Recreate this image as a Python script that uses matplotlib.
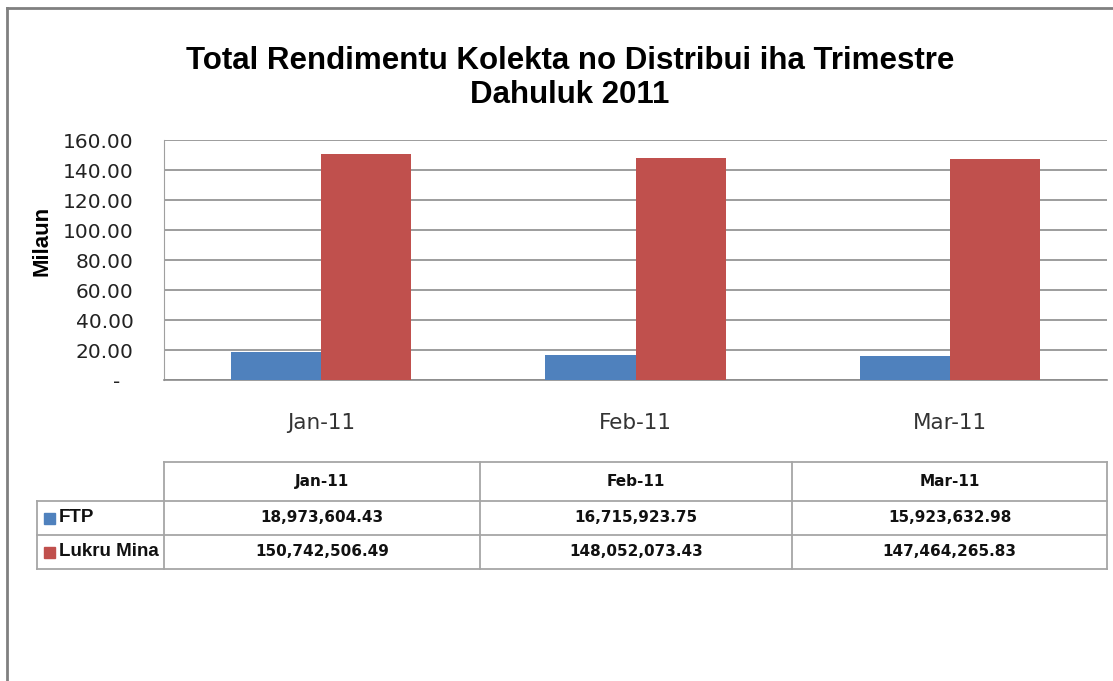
import matplotlib.pyplot as plt
import matplotlib.patches as patches
from matplotlib.lines import Line2D
import numpy as np

# DATA
months = ["Jan-11", "Feb-11", "Mar-11"]
series_names = ["FTP", "Lukru Mina"]
ftp = [18973604.43, 16715923.75, 15923632.98]
lukru_mina = [150742506.49, 148052073.43, 147464265.83]
y_ticks = [0, 20, 40, 60, 80, 100, 120, 140, 160]

colors = ["#4F81BD", "#C0504D"]
W, H = 1113, 681

fig = plt.figure(figsize=(W / 100, H / 100), dpi=100)
fig.patch.set_facecolor("white")

# outer chart border (only top / left visible in the original)
fig.add_artist(Line2D([7 / W, 1.05], [1 - 8 / H, 1 - 8 / H], transform=fig.transFigure,
                      color="#808080", linewidth=2))
fig.add_artist(Line2D([7 / W, 7 / W], [1 - 8 / H, -0.05], transform=fig.transFigure,
                      color="#808080", linewidth=2))

# TITLE
fig.text(570 / W, 1 - 78 / H, "Total Rendimentu Kolekta no Distribui iha Trimestre\nDahuluk 2011",
         ha="center", va="center", fontsize=22.5, fontweight="bold", family="Liberation Sans",
         linespacing=1.2)

# BAR CHART
left, right, top, bottom = 164, 1107, 140, 380
ax = fig.add_axes([left / W, 1 - bottom / H, (right - left) / W, (bottom - top) / H])
x = np.arange(len(months))
bw = 0.287
ax.bar(x - bw / 2, np.array(ftp) / 1e6, bw, color=colors[0], zorder=3)
ax.bar(x + bw / 2, np.array(lukru_mina) / 1e6, bw, color=colors[1], zorder=3)
ax.set_xlim(-0.5, len(months) - 0.5)
ax.set_ylim(0, 160)
ax.set_yticks(y_ticks)
ax.set_yticklabels(["-  "] + ["%.2f" % v for v in y_ticks[1:]], family="DejaVu Sans", fontsize=14.5,
                   color="#222222")
ax.set_xticks(x)
ax.set_xticklabels(months, family="DejaVu Sans", fontsize=15.5, color="#333333")
ax.tick_params(axis="y", length=0, pad=22)
ax.tick_params(axis="x", length=0, pad=24)
ax.grid(axis="y", color="#8c8c8c", linewidth=1.2, zorder=0)
for s in ["top", "right"]:
    ax.spines[s].set_visible(False)
ax.spines["left"].set_color("#a0a0a0")
ax.spines["bottom"].set_color("#8c8c8c")
ax.spines["bottom"].set_linewidth(1.2)
ax.set_ylabel("Milaun", family="Liberation Sans", fontweight="bold", fontsize=16)
ax.yaxis.set_label_coords(-111 / (right - left), 0.58)

# DATA TABLE (drawn in pixel coordinates)
tab = fig.add_axes([0, 0, 1, 1])
tab.set_xlim(0, W)
tab.set_ylim(H, 0)
tab.axis("off")
col_x = [37, 164, 480, 792, 1107]
row_y = [462, 501, 535, 569]
lc = "#a6a6a6"
# horizontal lines
tab.plot([col_x[1], col_x[-1]], [row_y[0], row_y[0]], color=lc, lw=1.3)
for yy in row_y[1:]:
    tab.plot([col_x[0], col_x[-1]], [yy, yy], color=lc, lw=1.3)
# vertical lines
tab.plot([col_x[0], col_x[0]], [row_y[1], row_y[-1]], color=lc, lw=1.3)
for xx in col_x[1:]:
    tab.plot([xx, xx], [row_y[0], row_y[-1]], color=lc, lw=1.3)

tfont = dict(family="DejaVu Sans", fontweight="bold", fontsize=11, color="#111111")
for j, m in enumerate(months):
    cx = (col_x[j + 1] + col_x[j + 2]) / 2
    tab.text(cx, (row_y[0] + row_y[1]) / 2, m, ha="center", va="center", **tfont)

for i, (name, vals) in enumerate(zip(series_names, [ftp, lukru_mina])):
    cy = (row_y[i + 1] + row_y[i + 2]) / 2
    tab.add_patch(patches.Rectangle((44, cy - 5), 11, 11, color=colors[i]))
    tab.text(59, cy, name, ha="left", va="center", family="Liberation Sans", fontweight="bold",
             fontsize=13.5, color="#111111")
    for j, v in enumerate(vals):
        cx = (col_x[j + 1] + col_x[j + 2]) / 2
        tab.text(cx, cy, "{:,.2f}".format(v), ha="center", va="center", **tfont)

fig.savefig("out.png", dpi=100)
